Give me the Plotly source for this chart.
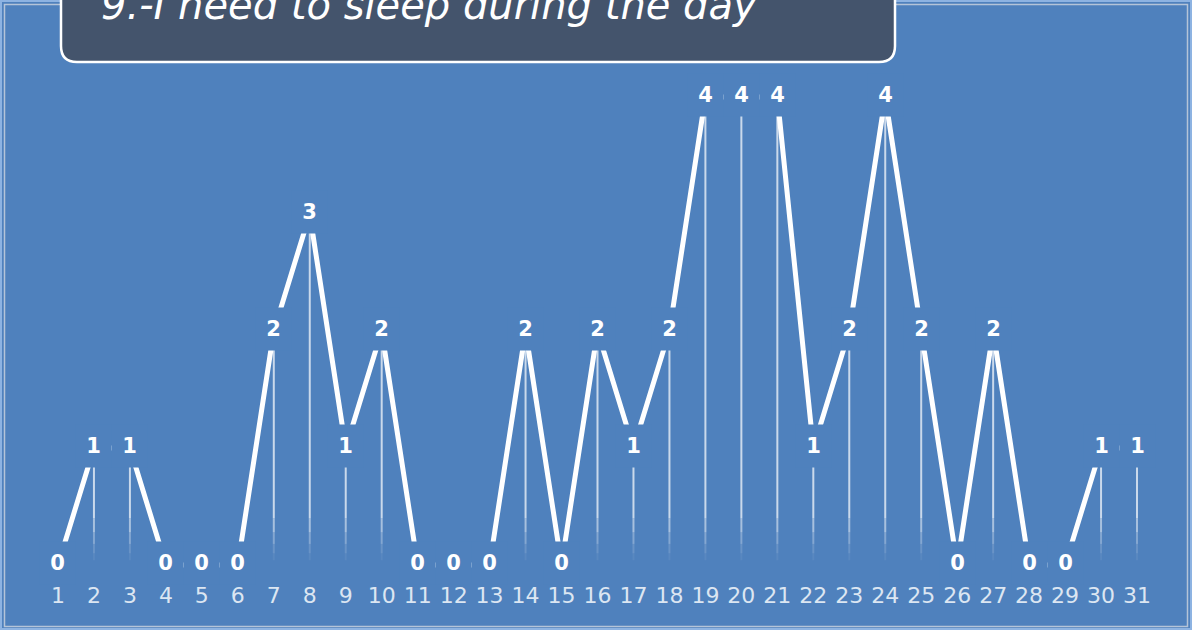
import plotly.graph_objects as go

# ---- data ----
days = list(range(1, 32))
tick_labels = [str(d) for d in days]
values = [0, 1, 1, 0, 0, 0, 2, 3, 1, 2, 0, 0, 0, 2, 0, 2, 1, 2, 4, 4, 4, 1, 2, 4, 2, 0, 2, 0, 0, 1, 1]
title_text = "9.-I need to sleep during the day"

# ---- style / layout ----
W, H = 1192, 630
BG = "#4F81BD"
L, R, T, B = 40, 1155, 30, 580           # plot area in pixels
Y0_PX, UNIT_PX = 565, 117                # pixel of value 0, pixels per unit

def px_x(px):
    return (px - L) / (R - L)

def px_y(py):
    return (B - py) / (B - T)

y_lo = -(B - Y0_PX) / UNIT_PX
y_hi = (Y0_PX - T) / UNIT_PX

fig = go.Figure()

# drop lines (fading toward the axis)
fade = [(None, 0.40, 0.70), (0.40, 0.28, 0.50), (0.28, 0.18, 0.30), (0.18, 0.10, 0.15), (0.10, 0.04, 0.06)]
for top, bot, alpha in fade:
    xs, ys = [], []
    for d, v in zip(days, values):
        if v <= 0:
            continue
        t = v if top is None else top
        xs += [d, d, None]
        ys += [t, bot, None]
    fig.add_trace(go.Scatter(x=xs, y=ys, mode="lines",
                             line=dict(color=f"rgba(255,255,255,{alpha})", width=2),
                             hoverinfo="skip", showlegend=False))

# main line
fig.add_trace(go.Scatter(x=days, y=values, mode="lines",
                         line=dict(color="white", width=5),
                         showlegend=False))

annotations = []
for d, v in zip(days, values):
    annotations.append(dict(
        x=d, y=v, xref="x", yref="y", text=str(v), showarrow=False,
        bgcolor=BG, width=33, height=40, yshift=2,
        font=dict(family="DejaVu Sans", size=21, color="white", weight="bold"),
    ))

# title text
annotations.append(dict(
    x=px_x(99), y=px_y(5), xref="paper", yref="paper", xanchor="left", yanchor="middle",
    text=title_text, showarrow=False,
    font=dict(family="DejaVu Sans", size=40, color="white", style="italic"),
))

shapes = []
# outer frame lines
shapes.append(dict(type="rect", xref="paper", yref="paper",
                   x0=px_x(1), x1=px_x(W - 1), y0=px_y(H - 1), y1=px_y(1),
                   line=dict(color="#8DB3E2", width=2), layer="below"))
shapes.append(dict(type="rect", xref="paper", yref="paper",
                   x0=px_x(4.5), x1=px_x(W - 4.5), y0=px_y(H - 3.5), y1=px_y(4.5),
                   line=dict(color="#B4C4D8", width=1.5), layer="below"))

# title box with rounded bottom corners
bx0, bx1, by0, by1, r = 61, 895, -20, 62, 16
path = (f"M {px_x(bx0)},{px_y(by0)} "
        f"L {px_x(bx0)},{px_y(by1 - r)} "
        f"Q {px_x(bx0)},{px_y(by1)} {px_x(bx0 + r)},{px_y(by1)} "
        f"L {px_x(bx1 - r)},{px_y(by1)} "
        f"Q {px_x(bx1)},{px_y(by1)} {px_x(bx1)},{px_y(by1 - r)} "
        f"L {px_x(bx1)},{px_y(by0)} Z")
shapes.append(dict(type="path", xref="paper", yref="paper", path=path,
                   fillcolor="#44546C", line=dict(color="white", width=2.5), layer="above"))

fig.update_layout(
    width=W, height=H,
    margin=dict(l=L, r=W - R, t=T, b=H - B, pad=0),
    paper_bgcolor=BG, plot_bgcolor=BG,
    showlegend=False,
    xaxis=dict(range=[0.5, 31.5], tickmode="array", tickvals=days, ticktext=tick_labels,
               showgrid=False, zeroline=False, showline=False, ticks="",
               tickfont=dict(family="DejaVu Sans", size=22, color="#DCE6F2")),
    yaxis=dict(range=[y_lo, y_hi], showgrid=False, zeroline=False, showline=False,
               showticklabels=False, ticks=""),
    annotations=annotations,
    shapes=shapes,
)

fig.write_html("out.html", config={"displayModeBar": False},
               post_script="document.body.style.margin='0px';document.body.style.overflow='hidden';")
